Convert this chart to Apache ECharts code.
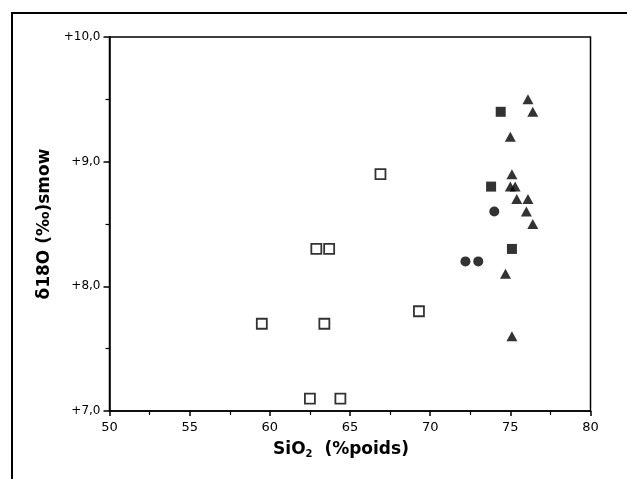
<!DOCTYPE html>
<html>
<head>
<meta charset="utf-8">
<script src="https://cdn.jsdelivr.net/npm/echarts@6/dist/echarts.min.js"></script>
<style>
html,body{margin:0;padding:0;background:#fff;}
#c{width:627px;height:479px;}
</style>
</head>
<body>
<div id="c"></div>
<script>
// Data (SiO2 %poids, delta18O permil SMOW)
const openSquares = [[66.9,8.9],[62.9,8.3],[63.7,8.3],[59.5,7.7],[63.4,7.7],[69.3,7.8],[62.5,7.1],[64.4,7.1]];
const filledSquares = [[74.4,9.4],[73.8,8.8],[75.1,8.3]];
const filledCircles = [[74.0,8.6],[72.2,8.2],[73.0,8.2]];
const filledTriangles = [[76.1,9.5],[76.4,9.4],[75.0,9.2],[75.1,8.9],[75.0,8.8],[75.3,8.8],[75.4,8.7],[76.1,8.7],[76.0,8.6],[76.4,8.5],[74.7,8.1],[75.1,7.6]];
const xTicks = [50,55,60,65,70,75,80];
const yTickLabels = {7:'+7,0',8:'+8,0',9:'+9,0',10:'+10,0'};

const chart = echarts.init(document.getElementById('c'), null, {renderer:'canvas'});
const font = '"DejaVu Sans", "Liberation Sans", Arial, sans-serif';
const axisLine = {lineStyle:{color:'#000',width:1.5}};
chart.setOption({
  backgroundColor:'#fff',
  animation:false,
  graphic:[
    {type:'polyline', shape:{points:[[12,479],[12,13],[627,13]]}, style:{stroke:'#000',lineWidth:2,fill:null}}
  ],
  grid:{left:109.5,right:36.5,top:37,bottom:68,show:true,borderColor:'#000',borderWidth:1.5,backgroundColor:'transparent'},
  xAxis:{
    type:'value',min:50,max:80,interval:5,
    axisLine:axisLine,
    axisTick:{show:true,length:5,lineStyle:{color:'#000',width:1.5}},
    minorTick:{show:true,splitNumber:2,length:4,lineStyle:{color:'#000',width:1.2}},
    splitLine:{show:false},
    axisLabel:{color:'#000',fontFamily:font,fontSize:13,margin:10,formatter:v=>xTicks.includes(v)?String(v):''},
    name:'{a|SiO}{s|2}{a|  (%poids)}',
    nameLocation:'middle',nameGap:30,
    nameTextStyle:{padding:[0,18,0,0],rich:{
      a:{fontFamily:font,fontSize:17,fontWeight:'bold',color:'#000'},
      s:{fontFamily:font,fontSize:10,fontWeight:'bold',color:'#000',verticalAlign:'bottom',padding:[8,0,0,0]}
    }}
  },
  yAxis:{
    type:'value',min:7,max:10,interval:1,
    axisLine:axisLine,
    axisTick:{show:true,length:6,lineStyle:{color:'#000',width:1.5}},
    minorTick:{show:true,splitNumber:2,length:4,lineStyle:{color:'#000',width:1.2}},
    splitLine:{show:false},
    axisLabel:{color:'#000',fontFamily:font,fontSize:12,margin:9,formatter:v=>yTickLabels[v]||''},
    name:'δ18O (‰)smow',
    nameLocation:'middle',nameGap:45,nameRotate:90,
    nameTextStyle:{fontFamily:font,fontSize:17,fontWeight:'bold',color:'#000'}
  },
  series:[
    {type:'scatter',data:openSquares,symbol:'rect',symbolSize:10,itemStyle:{color:'#fff',borderColor:'#000',borderWidth:1.8}},
    {type:'scatter',data:filledSquares,symbol:'rect',symbolSize:10,itemStyle:{color:'#000'}},
    {type:'scatter',data:filledCircles,symbol:'circle',symbolSize:10,itemStyle:{color:'#000'}},
    {type:'scatter',data:filledTriangles,symbol:'triangle',symbolSize:[11,10],itemStyle:{color:'#000'}}
  ]
});
</script>
</body>
</html>
